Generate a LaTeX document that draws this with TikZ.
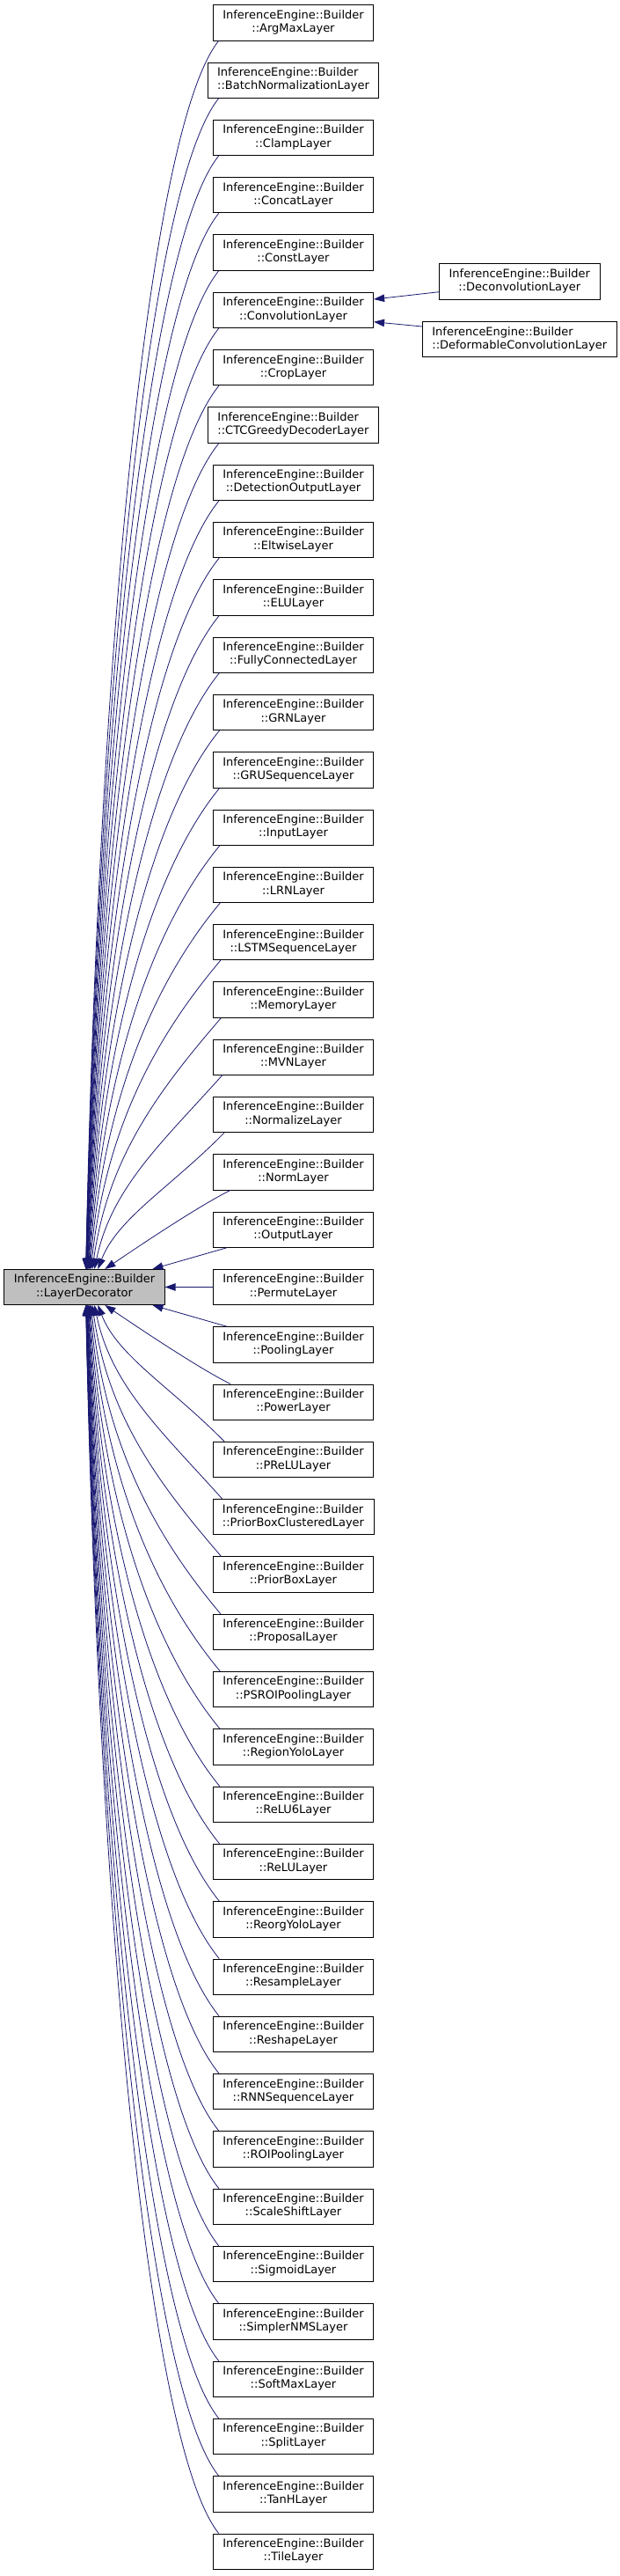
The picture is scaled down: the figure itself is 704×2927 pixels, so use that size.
\documentclass[tikz,border=0pt]{standalone}
\usepackage{fontspec}
\setmainfont{DejaVu Sans}
\usetikzlibrary{arrows.meta,calc}
\definecolor{edgeblue}{HTML}{191970}
\definecolor{baseGrey}{HTML}{BFBFBF}
\newcommand{\builder}[1]{\begin{tabular}{@{}l@{}}InferenceEngine::Builder\\\multicolumn{1}{@{}c@{}}{::#1}\end{tabular}}

\begin{document}
\begin{tikzpicture}[x=1pt,y=1pt,
cls/.style={draw=black,fill=white,line width=.8pt,inner xsep=11pt,inner ysep=4.85pt,minimum height=40.3pt,font=\fontsize{13}{15.3}\selectfont},
inherit/.style={-{Triangle[length=12pt,width=8.5pt]},line width=.8pt,draw=edgeblue}]
\useasboundingbox (0,0) rectangle (704,-2927);
\coordinate (tail) at (248,0);
\node[cls,fill=baseGrey] (decorator) at (96,-1462.45) {\builder{LayerDecorator}};
% derived classes, one column
\foreach \name/\cname [count=\i from 0] in {argmax/ArgMaxLayer,batchnorm/BatchNormalizationLayer,clamp/ClampLayer,concat/ConcatLayer,const/ConstLayer,conv/ConvolutionLayer,crop/CropLayer,ctc/CTCGreedyDecoderLayer,detection/DetectionOutputLayer,eltwise/EltwiseLayer,elu/ELULayer,fc/FullyConnectedLayer,grn/GRNLayer,gru/GRUSequenceLayer,input/InputLayer,lrn/LRNLayer,lstm/LSTMSequenceLayer,memory/MemoryLayer,mvn/MVNLayer,normalize/NormalizeLayer,norm/NormLayer,output/OutputLayer,permute/PermuteLayer,pooling/PoolingLayer,power/PowerLayer,prelu/PReLULayer,priorboxcl/PriorBoxClusteredLayer,priorbox/PriorBoxLayer,proposal/ProposalLayer,psroi/PSROIPoolingLayer,regionyolo/RegionYoloLayer,relu6/ReLU6Layer,relu/ReLULayer,reorgyolo/ReorgYoloLayer,resample/ResampleLayer,reshape/ReshapeLayer,rnn/RNNSequenceLayer,roipool/ROIPoolingLayer,scaleshift/ScaleShiftLayer,sigmoid/SigmoidLayer,simplernms/SimplerNMSLayer,softmax/SoftMaxLayer,split/SplitLayer,tanh/TanHLayer,tile/TileLayer}{
  \node[cls] (\name) at (333.5,{-25.85-65.3*\i}) {\builder{\cname}};
  \pgfmathtruncatemacro{\d}{abs(\i-22)}
  \ifnum\d=0
    \draw[inherit] (\name) -- (decorator);
  \else\ifnum\d=1
    \ifnum\i<22
      \draw[inherit] ($(\name.south -| tail)+(10,0)$) -- ($(decorator.north west)+(169,0)$);
    \else
      \draw[inherit] ($(\name.north -| tail)+(10,0)$) -- ($(decorator.south west)+(169,0)$);
    \fi
  \else
    \pgfmathsetmacro{\hh}{65.3*\d-39.3}
    \pgfmathsetmacro{\ff}{1-1/(\d-1)}
    \pgfmathsetmacro{\ca}{40+42*\ff}
    \pgfmathsetmacro{\cb}{20+84*\ff}
    \pgfmathsetmacro{\cc}{30-16*\ff}
    \pgfmathsetmacro{\cd}{\hh*(0.22+0.295*\ff)}
    \pgfmathsetmacro{\xo}{14/(\d-1)}
    \pgfmathsetmacro{\xe}{91+48/\d}
    \ifnum\i<22
      \draw[inherit] ($(\name.south -| tail)+(\xo,0)$) .. controls +(-\ca,-\cb) and +(\cc,\cd) .. ($(decorator.north west)+(\xe,0)$);
    \else
      \draw[inherit] ($(\name.north -| tail)+(\xo,0)$) .. controls +(-\ca,\cb) and +(\cc,-\cd) .. ($(decorator.south west)+(\xe,0)$);
    \fi
  \fi\fi
}
% second level under the convolution layer
\node[cls] (deconv) at (590.8,-320) {\builder{DeconvolutionLayer}};
\node[cls] (deformconv) at (590.8,-385.7) {\builder{DeformableConvolutionLayer}};
\draw[inherit] ([yshift=-11.7pt]deconv.west) -- ([yshift=12.3pt]conv.east);
\draw[inherit] ([yshift=14.7pt]deformconv.west) -- ([yshift=-13.4pt]conv.east);
\end{tikzpicture}
\end{document}
